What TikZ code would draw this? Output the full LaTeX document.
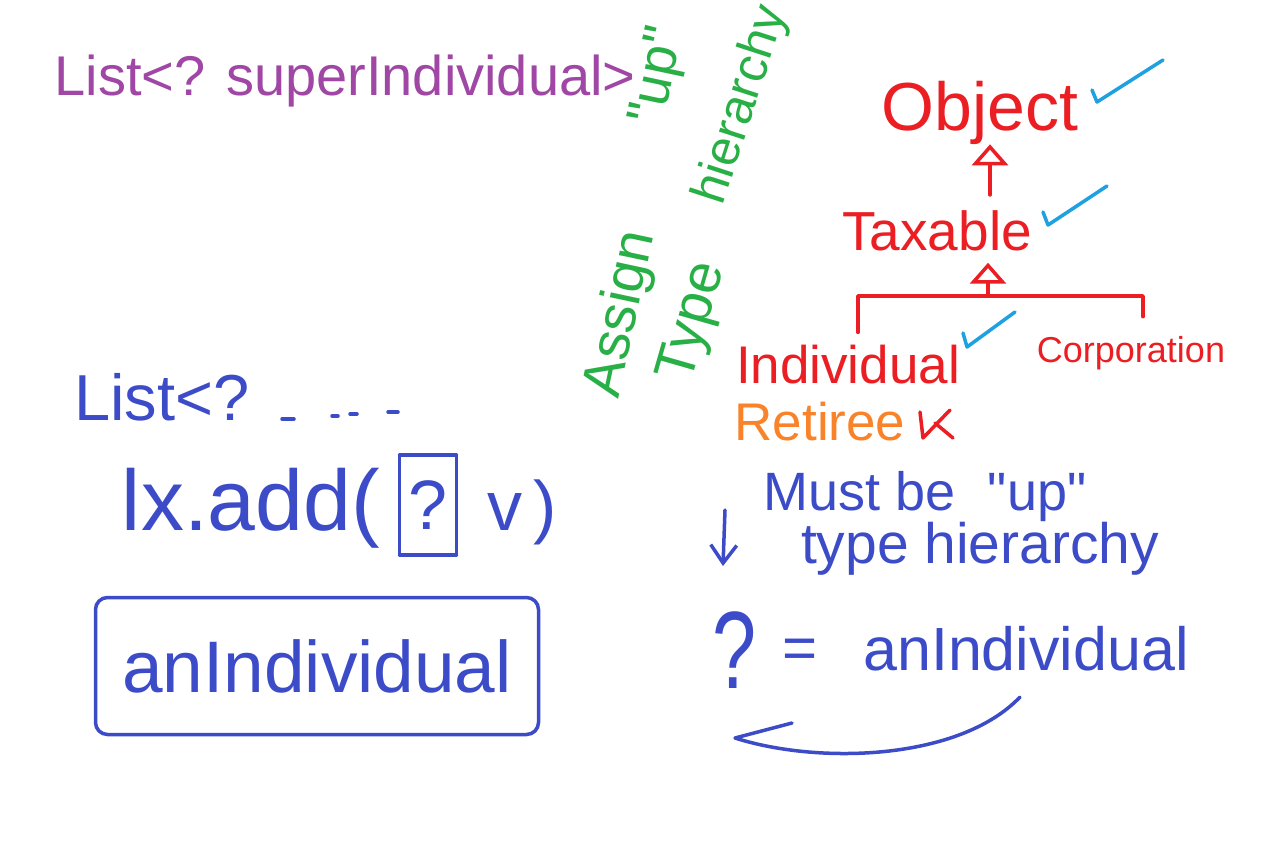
\documentclass[tikz,border=0pt]{standalone}
\usepackage{fontspec}
\setmainfont{Liberation Sans}
\usetikzlibrary{arrows.meta}
\definecolor{hpurple}{RGB}{160,70,165}
\definecolor{hgreen}{RGB}{40,175,70}
\definecolor{hred}{RGB}{235,30,35}
\definecolor{hcheck}{RGB}{30,160,225}
\definecolor{horange}{RGB}{250,130,40}
\definecolor{hblue}{RGB}{60,75,200}
\newcommand{\hfs}[1]{\fontsize{#1}{#1}\selectfont}
\newcommand{\dq}{\textquotedbl}
\tikzset{
  txt/.style={inner sep=0pt},
  redline/.style={draw=hred, line width=3.5pt, line cap=round, line join=round},
  blueline/.style={draw=hblue, line width=3.5pt, line cap=round, line join=round},
  checkline/.style={draw=hcheck, line width=3.5pt, line cap=round, line join=round},
  openhead/.style={-{Triangle[open,length=21pt,width=36pt]}}
}
\begin{document}
\begin{tikzpicture}[x=1pt,y=-1pt]
\fill[white] (0,0) rectangle (1264,847);
\useasboundingbox (0,0) rectangle (1264,847);

% purple title
\node[txt,text=hpurple,anchor=base] (purplelist) at (345,95) {\hfs{56}List<? superIndividual>};

% green rotated notes
\node[txt,text=hgreen,rotate=78] (assign) at (622,314) {\hfs{56}Assign};
\node[txt,text=hgreen,rotate=78] (up) at (660,76) {\hfs{54}\dq up\dq};
\node[txt,text=hgreen,rotate=74] (type) at (694,322) {\hfs{56}Type};
\node[txt,text=hgreen,rotate=72] (hier) at (742,105) {\hfs{50}hierarchy};

% red hierarchy
\node[txt,text=hred,anchor=base] (object) at (980,130) {\hfs{68}Object};
\node[txt,text=hred,anchor=base] (taxable) at (937,250) {\hfs{55}Taxable};
\node[txt,text=hred,anchor=base] (individual) at (848,383) {\hfs{53}Individual};
\node[txt,text=hred,anchor=base] (corporation) at (1131,362) {\hfs{36}Corporation};
\node[txt,text=horange,anchor=base] (retiree) at (820,440) {\hfs{53}Retiree};

\draw[redline,openhead,shorten <=15pt] (taxable.north -| 990,0) -- (object.south -| 990,0);
\coordinate (junction) at (988,296);
\draw[redline,openhead,shorten >=12pt] (junction) -- (junction |- taxable.south);
\draw[redline,shorten <=12pt,shorten >=19pt] (individual.north -| 858,0) |- (junction) -| (corporation.north -| 1143,0);

% checks
\draw[checkline] (1092,90) -- (1097,102) -- (1163,60);
\draw[checkline] (1043,212) -- (1048,225) -- (1107,186);
\draw[checkline] (963,333) -- (967,347) -- (1015,312);

% cross near Retiree
\draw[redline] (920,412) -- (923,438) -- (950,410);
\draw[redline] (935,423) -- (953,438);

% blue right side
\node[txt,text=hblue,anchor=base] (mustbe) at (925,510) {\hfs{54}Must be\hspace{0.6em}\dq up\dq};
\node[txt,text=hblue,anchor=base] (typehier) at (980,563) {\hfs{57}type hierarchy};
\node[txt,text=hblue,anchor=base] (qmark) at (735,688) {\hfs{110}\scalebox{0.72}[1]{?}};
\node[txt,text=hblue] (eq) at (800,654) {\hfs{60}=};
\node[txt,text=hblue,anchor=base] (anind2) at (1026,670) {\hfs{61}anIndividual};

\coordinate (da1) at (725,510);
\coordinate (da2) at (723,566);
\draw[blueline,-{Straight Barb[length=18pt,width=26pt]}] (da1) -- (da2);

\coordinate (cstart) at (1020,697);
\coordinate (cend) at (735,738);
\draw[blueline] (cstart) .. controls (960,760) and (820,765) .. (cend) -- ++(57,-15);

% blue left side
\node[txt,text=hblue,anchor=base] (list2) at (162,420) {\hfs{65}List<?};
\draw[blueline] (282,419) -- (294,419);
\draw[blueline] (332,416) -- (338,416);
\draw[blueline] (350,414) -- (357,414);
\draw[blueline] (388,412) -- (398,412);

\node[txt,text=hblue,anchor=base] (lxadd) at (251,530) {\hfs{86}lx.add(};
\node[txt,blueline,text=hblue,minimum width=57pt,minimum height=100pt] (qbox) at (428,505) {\hfs{70}?};
\node[txt,text=hblue,anchor=base] (vparen) at (522,530) {\hfs{70}v\hspace{0.15em})};

\node[blueline,text=hblue,rounded corners=12pt,minimum width=443pt,minimum height=137pt] (anind1) at (317,666) {\hfs{73}anIndividual};
\end{tikzpicture}
\end{document}
